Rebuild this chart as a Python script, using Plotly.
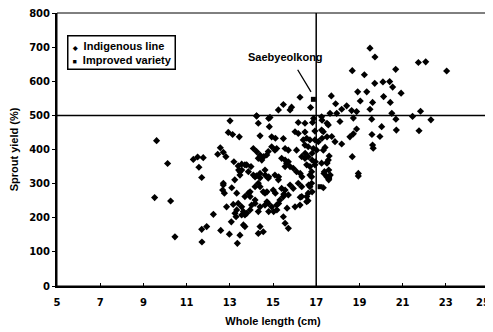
import plotly.graph_objects as go

# Indigenous line: whole length (cm) and sprout yield (%)
indig_length = [
    9.61, 10.12, 11.31, 11.51, 11.77, 11.57, 11.70, 9.52, 10.26, 10.46, 11.70, 11.93, 11.71, 12.24, 12.58, 12.98,
    12.93, 13.13, 13.44, 12.56, 12.44, 12.70, 12.82, 13.19, 13.39, 13.41, 12.70, 12.67, 12.75, 13.09, 13.23, 13.32,
    12.85, 13.16, 13.24, 13.29, 13.07, 13.47, 13.35, 13.01, 14.32, 14.24, 14.40, 13.55, 13.70, 13.47, 13.98, 14.09,
    14.24, 14.40, 14.48, 14.32, 14.17, 14.24, 14.40, 12.70, 14.94, 16.02, 16.17, 16.40, 16.56, 16.71, 16.94, 17.10,
    16.48, 16.63, 16.87, 17.02, 17.33, 17.33, 14.94, 15.09, 15.17, 14.78, 14.71, 15.56, 15.71, 16.09, 15.40, 15.56,
    15.63, 15.71, 15.79, 15.56, 15.94, 16.09, 16.33, 16.48, 16.63, 16.56, 16.71, 16.79, 16.94, 16.79, 17.25, 17.38,
    17.49, 17.33, 13.55, 13.47, 13.78, 13.86, 14.09, 14.40, 14.63, 14.78, 15.09, 15.25, 14.17, 14.32, 13.86, 13.70,
    13.94, 14.55, 14.63, 15.01, 15.40, 15.56, 15.79, 15.94, 16.17, 16.33, 16.71, 13.39, 13.55, 13.63, 13.32, 14.01,
    14.17, 14.40, 14.63, 14.78, 14.94, 15.17, 15.32, 15.48, 15.71, 16.02, 16.33, 16.56, 16.25, 13.55, 13.78, 13.63,
    14.40, 14.55, 14.32, 15.48, 15.56, 15.71, 16.25, 15.48, 15.86, 15.79, 15.25, 16.74, 14.24, 14.86, 16.17, 16.48,
    16.83, 15.48, 14.83, 16.48, 16.94, 17.25, 14.72, 15.11, 15.50, 16.65, 16.81, 16.26, 16.62, 14.72, 14.80, 15.03,
    15.18, 15.26, 15.65, 14.40, 13.94, 14.17, 13.70, 13.94, 14.32, 13.70, 14.80, 16.88, 17.27, 17.50, 15.11, 16.49,
    16.81, 17.27, 17.50, 14.57, 16.81, 16.96, 17.50, 17.58, 17.65, 16.26, 16.34, 14.64, 14.80, 15.26, 17.58, 18.95,
    18.95, 16.71, 16.79, 16.63, 16.56, 17.25, 17.41, 17.60, 17.56,
    19.49, 19.72, 18.67, 19.23, 20.68, 21.73, 22.07, 23.04, 19.71, 20.09, 20.40, 20.54, 20.93, 18.92, 19.34, 17.70,
    20.12, 19.04, 17.90, 19.61, 20.43, 18.41, 18.18, 19.49, 21.83, 20.50, 17.64, 17.95, 18.64, 18.87, 21.46, 22.31,
    20.69, 19.57, 18.72, 18.10, 17.56, 18.87, 20.03, 20.71, 21.76, 18.72, 19.58, 19.95, 17.72, 17.87, 18.18, 19.61,
    19.64, 18.67, 17.49, 17.36, 18.56,
]
indig_yield = [
    426, 359, 371, 378, 376, 348, 318, 259, 249, 144, 166, 174, 129, 210, 163, 152,
    450, 444, 437, 405, 386, 392, 379, 364, 352, 340, 296, 281, 272, 288, 311, 272,
    232, 239, 213, 203, 188, 149, 125, 484, 477, 499, 440, 357, 355, 335, 350, 403,
    394, 384, 369, 374, 320, 323, 317, 301, 437, 452, 447, 428, 433, 428, 428, 423,
    413, 408, 403, 398, 452, 398, 408, 398, 403, 394, 384, 403, 398, 398, 374, 369,
    360, 364, 350, 350, 345, 335, 379, 374, 379, 355, 350, 335, 355, 320, 360, 335,
    320, 288, 340, 325, 355, 335, 325, 330, 340, 316, 325, 311, 291, 301, 272, 262,
    276, 276, 272, 281, 286, 281, 296, 286, 301, 291, 291, 242, 232, 218, 223, 237,
    242, 232, 237, 242, 232, 237, 252, 262, 267, 232, 262, 262, 237, 208, 213, 179,
    174, 159, 154, 203, 184, 169, 553, 532, 524, 516, 516, 523, 498, 494, 479, 477,
    479, 432, 467, 451, 454, 496, 276, 272, 269, 296, 276, 260, 250, 247, 218, 218,
    223, 242, 228, 291, 262, 252, 208, 223, 218, 174, 491, 491, 486, 477, 433, 389,
    389, 433, 437, 379, 369, 364, 360, 340, 325, 330, 320, 325, 320, 320, 311, 330,
    322, 325, 301, 272, 247, 457, 406, 381, 369,
    697, 671, 631, 619, 635, 655, 657, 630, 594, 598, 599, 583, 565, 569, 569, 557,
    555, 542, 534, 538, 538, 528, 518, 518, 512, 506, 506, 506, 514, 511, 497, 487,
    489, 489, 492, 482, 472, 460, 467, 457, 455, 446, 444, 438, 438, 423, 416, 413,
    404, 379, 362, 330, 437,
]

# Improved variety
impr_length = [16.87, 17.18, 17.62]
impr_yield = [547, 291, 320]

x_ticks = [5, 7, 9, 11, 13, 15, 17, 19, 21, 23, 25]
x_tick_labels = ["5", "7", "9", "11", "13", "15", "17", "19", "21", "23", "25"]
y_ticks = [0, 100, 200, 300, 400, 500, 600, 700, 800]
ref_length = 17
ref_yield = 500
series_names = ["Indigenous line", "Improved variety"]
series_glyphs = ["\u25c6", "\u25a0"]

fig = go.Figure()
fig.add_trace(go.Scatter(
    x=indig_length, y=indig_yield, mode="markers", name=series_names[0],
    marker=dict(symbol="diamond", size=5.5, color="black"), showlegend=False,
))
fig.add_trace(go.Scatter(
    x=impr_length, y=impr_yield, mode="markers", name=series_names[1],
    marker=dict(symbol="square", size=5, color="black"), showlegend=False,
))

# Reference lines
fig.add_shape(type="line", x0=ref_length, x1=ref_length, y0=0, y1=800, xref="x", yref="y",
              line=dict(color="black", width=1.5))
fig.add_shape(type="line", x0=5, x1=25, y0=ref_yield, y1=ref_yield, xref="x", yref="y",
              line=dict(color="black", width=1.5))
# Frame
fig.add_shape(type="rect", x0=0, x1=1, y0=0, y1=1, xref="paper", yref="paper",
              line=dict(color="black", width=1))

# Legend box as a bordered annotation
glyph_sizes = [6, 7]
legend_text = "<br>".join(
    f"<span style='font-size:{s}px'>{g}</span>  {n}"
    for g, s, n in zip(series_glyphs, glyph_sizes, series_names)
)
fig.add_annotation(x=0.0225, y=0.919, xref="paper", yref="paper", text=legend_text, showarrow=False,
                   align="left", xanchor="left", yanchor="top",
                   font=dict(family="Liberation Sans", size=11, color="black", weight="bold"),
                   bordercolor="black", borderwidth=1.5, borderpad=3, bgcolor="white")

# Saebyeolkong label and arrow
fig.add_annotation(x=15.58, y=670, xref="x", yref="y", text="Saebyeolkong", showarrow=False,
                   font=dict(family="Liberation Sans", size=11, color="black", weight="bold"),
                   xanchor="center", yanchor="middle")
fig.add_annotation(x=16.76, y=569, ax=16.10, ay=638, xref="x", yref="y", axref="x", ayref="y",
                   text="", showarrow=True, arrowhead=0, arrowwidth=1.3, arrowcolor="black",
                   standoff=0, startstandoff=0)

tickfont = dict(family="DejaVu Sans", size=10, color="black", weight="bold")
titlefont = dict(family="Liberation Sans", size=11, color="black", weight="bold")

# Last x tick label sits at the window edge: draw it right-aligned so it stays visible
fig.add_annotation(x=1, y=0, xref="paper", yref="paper", text=x_tick_labels[-1], showarrow=False,
                   xanchor="right", yanchor="top", xshift=3, yshift=-9, font=tickfont)

# The page body has an 8px margin, so the figure is 8px smaller and margins shifted.
fig.update_layout(
    width=485, height=324,
    margin=dict(l=49, r=4, t=5, b=46, autoexpand=False),
    paper_bgcolor="white", plot_bgcolor="white",
    showlegend=False,
    xaxis=dict(range=[5, 25], tickvals=x_ticks, ticktext=x_tick_labels[:-1] + [""],
               ticks="inside", ticklen=3, tickcolor="black",
               showline=True, linecolor="black", linewidth=2, showgrid=False, zeroline=False,
               tickfont=tickfont, ticklabelstandoff=6, automargin=False, ticklabeloverflow="allow",
               title=dict(text="Whole length (cm)", font=titlefont, standoff=10)),
    yaxis=dict(range=[0, 800], tickvals=y_ticks, ticks="outside", ticklen=3, tickcolor="black",
               showline=True, linecolor="black", linewidth=2, showgrid=False, zeroline=False,
               tickfont=tickfont, automargin=False, ticklabeloverflow="allow",
               title=dict(text="Sprout yield (%)", font=titlefont, standoff=11)),
)

fig.write_html("out.html")
